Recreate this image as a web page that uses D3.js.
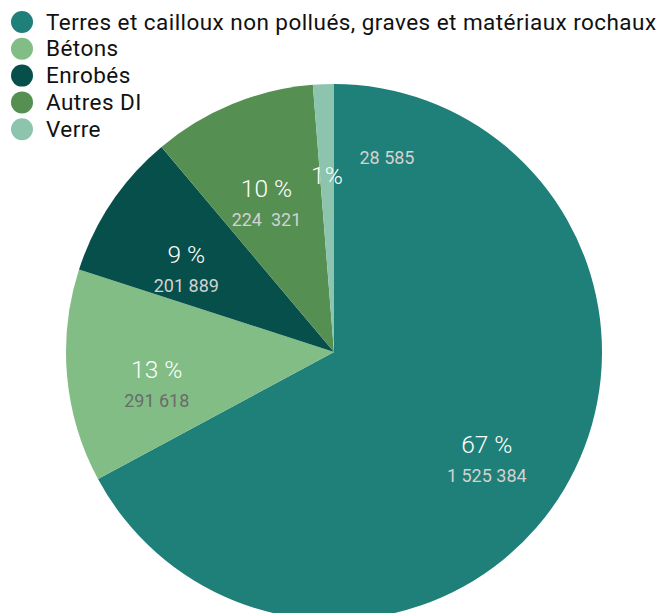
<!DOCTYPE html>
<html>
<head>
<meta charset="utf-8">
<script src="https://cdn.jsdelivr.net/npm/d3@7"></script>
<style>
body { margin: 0; background: #fff; }
text { font-family: Roboto, "Open Sans", sans-serif; }
</style>
</head>
<body>
<svg width="659" height="613"></svg>
<script>
var categories = ["Terres et cailloux non pollués, graves et matériaux rochaux", "Bétons", "Enrobés", "Autres DI", "Verre"];
var values = [1525384, 291618, 201889, 224321, 28585];
var valueLabels = ["1 525 384", "291 618", "201 889", "224  321", "28 585"];
var colors = ["#1e8078", "#82bd86", "#064f4b", "#568f52", "#8cc4ad"];
var numColors = ["#d2d2d2", "#6b6b6b", "#d2d2d2", "#d2d2d2", "#d2d2d2"];

var svg = d3.select("svg"),
	cx = 334, cy = 352,
	radius = 268,
	labelRadius = 178;

var total = d3.sum(values);

var data = categories.map(function(c, i) {
	return {name: c, value: values[i], label: valueLabels[i], color: colors[i], numColor: numColors[i]};
});

var pie = d3.pie().sort(null).value(function(d) { return d.value; });
var arc = d3.arc().innerRadius(0).outerRadius(radius);
var labelArc = d3.arc().innerRadius(labelRadius).outerRadius(labelRadius);

var g = svg.append("g").attr("transform", "translate(" + cx + "," + cy + ")");

var arcs = pie(data);

g.selectAll("path")
	.data(arcs)
	.enter().append("path")
	.attr("d", arc)
	.attr("fill", function(d) { return d.data.color; });

var lab = g.selectAll("g.lab")
	.data(arcs)
	.enter().append("g")
	.attr("class", "lab")
	.attr("transform", function(d) { var c = labelArc.centroid(d); return "translate(" + c[0] + "," + c[1] + ")"; });

lab.append("text")
	.attr("text-anchor", "middle")
	.attr("y", 10)
	.attr("fill", "#fff")
	.style("font-size", "24.5px")
	.style("font-weight", 300)
	.text(function(d, i) { return i == 4 ? "1%" : Math.round(d.data.value / total * 100) + " %"; });

lab.append("text")
	.attr("text-anchor", "middle")
	.attr("x", function(d, i) { return i == 4 ? 60 : 0; })
	.attr("y", function(d, i) { return i == 4 ? -10 : 39; })
	.attr("fill", function(d) { return d.data.numColor; })
	.style("font-size", "18px")
	.style("white-space", "pre")
	.text(function(d) { return d.data.label; });

// legend
var legend = svg.append("g").selectAll("g")
	.data(data)
	.enter().append("g")
	.attr("transform", function(d, i) { return "translate(22," + (22 + i * 26.8) + ")"; });

legend.append("circle")
	.attr("r", 11)
	.attr("fill", function(d) { return d.color; });

legend.append("text")
	.attr("x", 24)
	.attr("y", 7.5)
	.attr("fill", "#111")
	.style("font-size", "22.5px")
	.style("letter-spacing", "0.45px")
	.text(function(d) { return d.name; });
</script>
</body>
</html>
